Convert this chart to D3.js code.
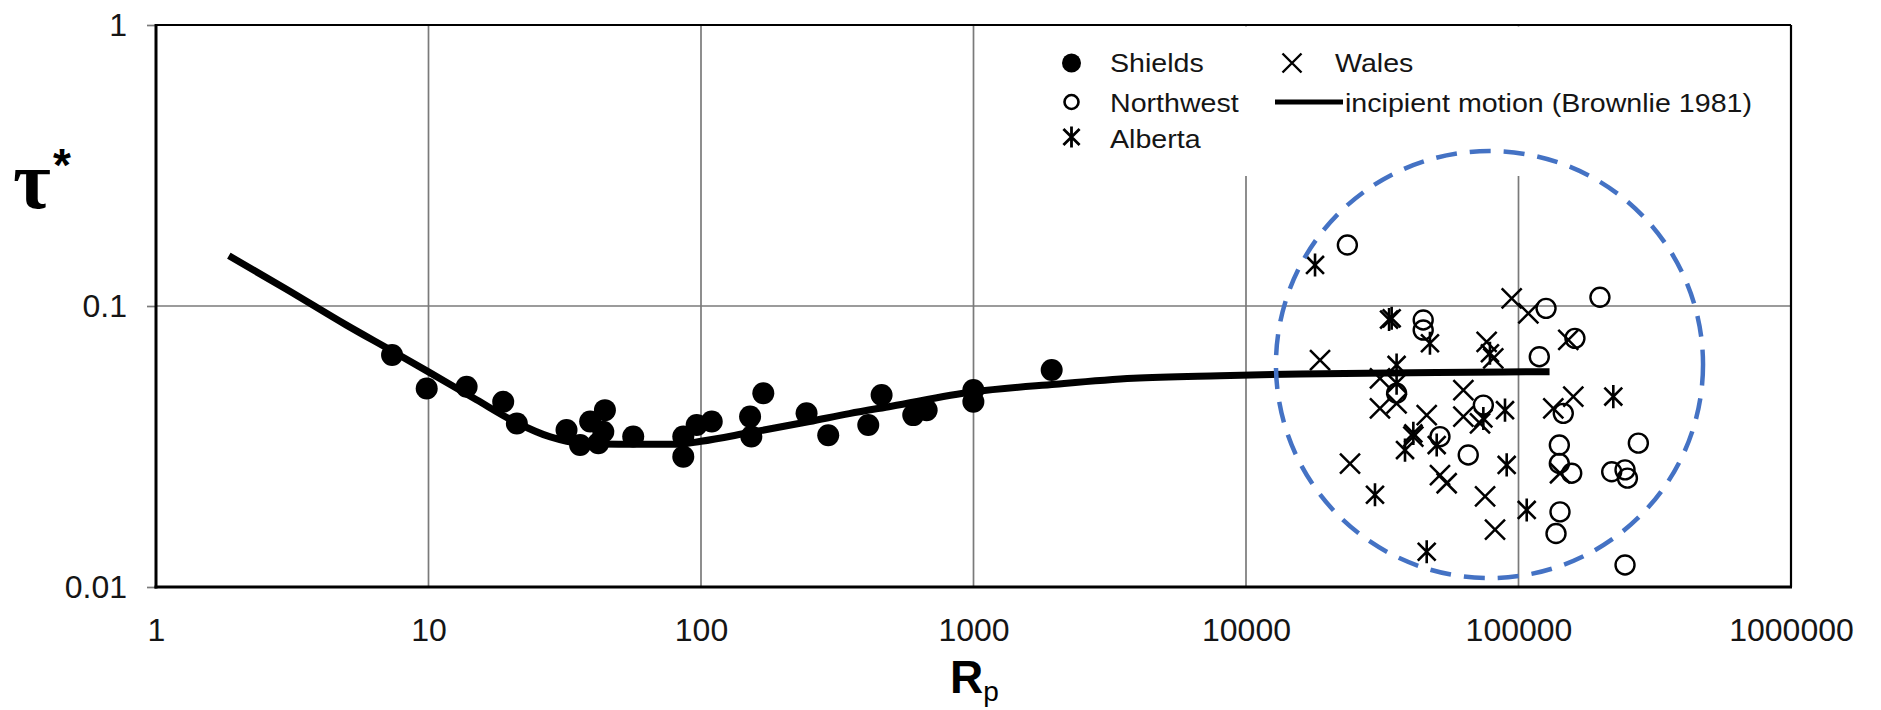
<!DOCTYPE html>
<html>
<head>
<meta charset="utf-8">
<script src="https://cdn.jsdelivr.net/npm/d3@7"></script>
<style>
html, body { margin: 0; padding: 0; background: #ffffff; }
svg { display: block; }
</style>
</head>
<body>
<svg id="chart" width="1881" height="710"></svg>
<script>
// ---------------- data ----------------
const xTickValues = [1, 10, 100, 1000, 10000, 100000, 1000000];
const xTickLabels = ["1", "10", "100", "1000", "10000", "100000", "1000000"];
const yTickValues = [0.01, 0.1, 1];
const yTickLabels = ["0.01", "0.1", "1"];

const seriesNames = ["Shields", "Northwest", "Alberta", "Wales", "incipient motion (Brownlie 1981)"];

// Shields (filled circles)
const shieldsRp  = [7.35, 9.85, 13.8, 18.8, 21.1, 32.1, 36, 39.2, 44.4, 43.8, 42, 56.4, 86.1, 86.1, 96.4, 109.5, 169.3, 151.4, 153, 244, 293, 460, 411, 601, 673, 999, 999, 1936];
const shieldsTau = [0.0669, 0.0509, 0.0516, 0.0456, 0.0382, 0.0362, 0.0320, 0.0388, 0.0426, 0.0357, 0.0325, 0.0343, 0.0291, 0.0343, 0.0377, 0.0388, 0.0489, 0.0404, 0.0343, 0.0415, 0.0347, 0.0482, 0.0377, 0.0409, 0.0426, 0.0502, 0.0456, 0.0592];

// Northwest (open circles)
const northwestRp  = [23550, 126200, 199000, 44700, 44700, 161100, 119200, 35700, 74300, 146000, 51500, 65400, 141200, 141200, 156800, 275300, 219800, 246000, 251000, 142000, 137300, 246000];
const northwestTau = [0.1648, 0.0981, 0.1074, 0.0892, 0.0821, 0.0767, 0.0660, 0.0489, 0.0444, 0.0415, 0.0343, 0.0295, 0.0320, 0.0275, 0.0254, 0.0325, 0.0257, 0.0261, 0.0244, 0.0185, 0.0155, 0.01198];

// Alberta (asterisks)
const albertaRp  = [17920, 34240, 33500, 47320, 35700, 35700, 78560, 89220, 74300, 41120, 38330, 50100, 90500, 29740, 107200, 46040, 222800];
const albertaTau = [0.140, 0.0904, 0.0895, 0.0737, 0.0617, 0.0531, 0.0679, 0.0426, 0.0398, 0.0352, 0.0307, 0.0320, 0.0272, 0.0213, 0.0188, 0.01335, 0.0476];

// Wales (crosses)
const walesRp  = [94400, 108700, 76400, 80800, 18690, 152300, 31020, 62760, 31020, 35700, 46040, 62760, 72230, 158900, 134200, 41120, 24080, 51500, 54500, 75400, 82000, 142000];
const walesTau = [0.1065, 0.0942, 0.0746, 0.0651, 0.0642, 0.0757, 0.0553, 0.0502, 0.0432, 0.0450, 0.0409, 0.0404, 0.0382, 0.0476, 0.0432, 0.0343, 0.0275, 0.0250, 0.0234, 0.0210, 0.0160, 0.0254];

// incipient motion curve (Brownlie 1981)
const curveRp  = [1.85, 3, 5, 7.35, 10, 15, 21, 28, 36, 50, 82, 100, 150, 250, 350, 500, 1000, 2000, 3860, 8000, 15800, 50000, 130000];
const curveTau = [0.151, 0.115, 0.0855, 0.0692, 0.0583, 0.0464, 0.0385, 0.0342, 0.0325, 0.0322, 0.0322, 0.0330, 0.0354, 0.0388, 0.0414, 0.0440, 0.0495, 0.0527, 0.0553, 0.0565, 0.0573, 0.0580, 0.0584];

// dashed highlight ellipse (bounding box in data units)
const highlightRp  = [12880, 475500];
const highlightTau = [0.01076, 0.356];

// ---------------- layout ----------------
const svg = d3.select("#chart");
const pL = 156, pR = 1791, pT = 25, pB = 587;

const x = d3.scaleLog().domain([1, 1e6]).range([pL, pR]);
const y = d3.scaleLog().domain([0.01, 1]).range([pB, pT]);

const TXT = "#151515";
const GRID = "#7a7a7a";

// gridlines
svg.append("g").selectAll("line")
  .data(xTickValues.filter(v => v > 1 && v < 1e6))
  .join("line")
  .attr("x1", d => x(d)).attr("x2", d => x(d))
  .attr("y1", pT).attr("y2", pB)
  .attr("stroke", GRID).attr("stroke-width", 1.7);

svg.append("g").selectAll("line")
  .data(yTickValues.filter(v => v > 0.01 && v < 1))
  .join("line")
  .attr("x1", pL).attr("x2", pR)
  .attr("y1", d => y(d)).attr("y2", d => y(d))
  .attr("stroke", GRID).attr("stroke-width", 1.7);

// y axis (ticks + labels)
const yAxis = d3.axisLeft(y)
  .tickValues(yTickValues)
  .tickFormat((d, i) => yTickLabels[i])
  .tickSize(9).tickSizeOuter(0).tickPadding(20);
const gy = svg.append("g").attr("transform", `translate(${pL},0)`).call(yAxis);
gy.select(".domain").remove();
gy.selectAll(".tick line").attr("stroke", GRID).attr("stroke-width", 1.7);
gy.selectAll(".tick text")
  .attr("font-family", "'Liberation Sans', Arial, sans-serif")
  .attr("font-size", 32).attr("fill", TXT);

// x axis (labels only)
const xAxis = d3.axisBottom(x)
  .tickValues(xTickValues)
  .tickFormat((d, i) => xTickLabels[i])
  .tickSize(0).tickSizeOuter(0).tickPadding(31);
const gx = svg.append("g").attr("transform", `translate(0,${pB})`).call(xAxis);
gx.select(".domain").remove();
gx.selectAll(".tick text")
  .attr("font-family", "'Liberation Sans', Arial, sans-serif")
  .attr("font-size", 32).attr("fill", TXT);

// ---------------- markers ----------------
function crossPath(s) {
  return `M${-s},${-s}L${s},${s}M${-s},${s}L${s},${-s}`;
}
function starPath(s) {
  const a = s * 0.85;
  return `M${-a},${-a}L${a},${a}M${-a},${a}L${a},${-a}M0,${-s * 1.1}L0,${s * 1.1}`;
}

const plot = svg.append("g");

// Shields
plot.append("g").selectAll("circle")
  .data(d3.zip(shieldsRp, shieldsTau))
  .join("circle")
  .attr("cx", d => x(d[0])).attr("cy", d => y(d[1]))
  .attr("r", 11).attr("fill", "#000");

// curve
const line = d3.line().x(d => x(d[0])).y(d => y(d[1])).curve(d3.curveMonotoneX);
plot.append("path")
  .datum(d3.zip(curveRp, curveTau))
  .attr("d", line)
  .attr("fill", "none").attr("stroke", "#000")
  .attr("stroke-width", 7).attr("stroke-linecap", "butt").attr("stroke-linejoin", "round");

// Wales
plot.append("g").selectAll("path")
  .data(d3.zip(walesRp, walesTau))
  .join("path")
  .attr("transform", d => `translate(${x(d[0])},${y(d[1])})`)
  .attr("d", crossPath(10))
  .attr("fill", "none").attr("stroke", "#000").attr("stroke-width", 2.5);

// Alberta
plot.append("g").selectAll("path")
  .data(d3.zip(albertaRp, albertaTau))
  .join("path")
  .attr("transform", d => `translate(${x(d[0])},${y(d[1])})`)
  .attr("d", starPath(10.5))
  .attr("fill", "none").attr("stroke", "#000").attr("stroke-width", 2.6);

// Northwest
plot.append("g").selectAll("circle")
  .data(d3.zip(northwestRp, northwestTau))
  .join("circle")
  .attr("cx", d => x(d[0])).attr("cy", d => y(d[1]))
  .attr("r", 9.5).attr("fill", "none").attr("stroke", "#000").attr("stroke-width", 2.4);

// ---------------- legend ----------------
svg.append("rect")
  .attr("x", 1040).attr("y", pT + 1.5)
  .attr("width", pR - 1040 - 1).attr("height", 176 - pT - 1.5)
  .attr("fill", "#fff");

const lg = svg.append("g")
  .attr("font-family", "'Liberation Sans', Arial, sans-serif")
  .attr("font-size", 26).attr("fill", TXT);

function legendText(tx, ty, label) {
  const t = lg.append("text").attr("x", tx).attr("y", ty).text(label);
  const w = t.node().getComputedTextLength();
  t.attr("textLength", w * 1.1).attr("lengthAdjust", "spacingAndGlyphs");
}

lg.append("circle").attr("cx", 1071.5).attr("cy", 63).attr("r", 9.5).attr("fill", "#000");
legendText(1110, 72, seriesNames[0]);

lg.append("circle").attr("cx", 1071.5).attr("cy", 102).attr("r", 7).attr("fill", "none")
  .attr("stroke", "#000").attr("stroke-width", 2.6);
legendText(1110, 111.5, seriesNames[1]);

lg.append("path").attr("transform", "translate(1071.5,137)").attr("d", starPath(9.5))
  .attr("fill", "none").attr("stroke", "#000").attr("stroke-width", 2.8);
legendText(1110, 148, seriesNames[2]);

lg.append("path").attr("transform", "translate(1292,63)").attr("d", crossPath(9.5))
  .attr("fill", "none").attr("stroke", "#000").attr("stroke-width", 2.4);
legendText(1335, 72, seriesNames[3]);

lg.append("line").attr("x1", 1275).attr("x2", 1343).attr("y1", 102).attr("y2", 102)
  .attr("stroke", "#000").attr("stroke-width", 5);
legendText(1345, 111.5, seriesNames[4]);

// ---------------- frame ----------------
const frame = svg.append("g").attr("fill", "none").attr("stroke", "#000");
frame.append("line").attr("x1", pL).attr("x2", pR).attr("y1", pT).attr("y2", pT).attr("stroke-width", 2.2);
frame.append("line").attr("x1", pR).attr("x2", pR).attr("y1", pT).attr("y2", pB).attr("stroke-width", 2.2);
frame.append("line").attr("x1", pL).attr("x2", pL).attr("y1", pT - 1).attr("y2", pB + 1.5).attr("stroke-width", 3);
frame.append("line").attr("x1", pL - 1.5).attr("x2", pR + 1).attr("y1", pB).attr("y2", pB).attr("stroke-width", 3);

// ---------------- highlight ellipse ----------------
const ex0 = x(highlightRp[0]), ex1 = x(highlightRp[1]);
const ey0 = y(highlightTau[1]), ey1 = y(highlightTau[0]);
svg.append("ellipse")
  .attr("cx", (ex0 + ex1) / 2).attr("cy", (ey0 + ey1) / 2)
  .attr("rx", (ex1 - ex0) / 2).attr("ry", (ey1 - ey0) / 2)
  .attr("fill", "none").attr("stroke", "#4472C4")
  .attr("stroke-width", 4.5).attr("stroke-dasharray", "21 13");

// ---------------- axis titles ----------------
const yt = svg.append("g").attr("fill", "#000");
yt.append("text").attr("x", 13).attr("y", 208)
  .attr("font-family", "'Liberation Serif', 'Times New Roman', serif")
  .attr("font-weight", "bold").attr("font-size", 82).text("τ");
yt.append("text").attr("x", 53).attr("y", 181)
  .attr("font-family", "'Liberation Sans', Arial, sans-serif")
  .attr("font-weight", "bold").attr("font-size", 46).text("*");

const xt = svg.append("text").attr("x", 950).attr("y", 693).attr("fill", "#000")
  .attr("font-family", "'Liberation Sans', Arial, sans-serif");
xt.append("tspan").attr("font-weight", "bold").attr("font-size", 46).text("R");
xt.append("tspan").attr("font-size", 28).attr("dy", 8).text("p");
</script>
</body>
</html>
